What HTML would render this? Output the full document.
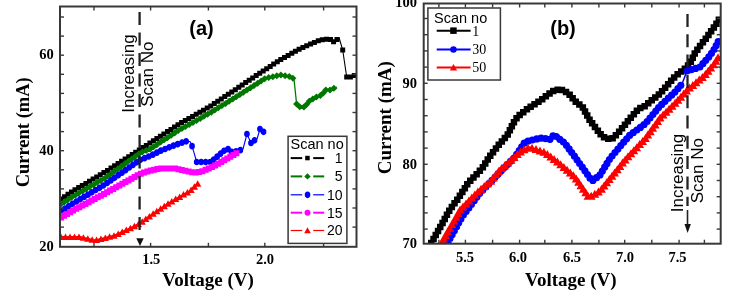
<!DOCTYPE html>
<html><head><meta charset="utf-8"><style>
html,body{margin:0;padding:0;background:#fff;}
svg{display:block;filter:blur(0.4px);}
text{fill:#000;}
</style></head><body>
<svg width="750" height="300" viewBox="0 0 750 300">
<rect width="750" height="300" fill="#fff"/>
<clipPath id="c0"><rect x="60" y="6.5" width="296.5" height="240.3"/></clipPath><g clip-path="url(#c0)">
<polyline points="61,199 73,191 105,172 150,143 180,123.5 210,106.5 240,86.5 260,73 280,60 300,48.7 313,43 320,40 324,39.5 330,39 333,42 335,41.5 339,37.5 342.7,50 346.7,77 348,78 353,76 356,75" fill="none" stroke="#000" stroke-width="1.1" stroke-linejoin="round"/>
<path d="M58.5 196.5h5.0v5.0h-5.0zM62.0 194.2h5.0v5.0h-5.0zM65.5 191.8h5.0v5.0h-5.0zM69.0 189.5h5.0v5.0h-5.0zM72.5 187.3h5.0v5.0h-5.0zM76.2 185.1h5.0v5.0h-5.0zM79.8 183.0h5.0v5.0h-5.0zM83.4 180.9h5.0v5.0h-5.0zM87.0 178.7h5.0v5.0h-5.0zM90.6 176.6h5.0v5.0h-5.0zM94.2 174.4h5.0v5.0h-5.0zM97.8 172.3h5.0v5.0h-5.0zM101.4 170.1h5.0v5.0h-5.0zM105.0 167.9h5.0v5.0h-5.0zM108.5 165.6h5.0v5.0h-5.0zM112.1 163.3h5.0v5.0h-5.0zM115.6 161.1h5.0v5.0h-5.0zM119.1 158.8h5.0v5.0h-5.0zM122.6 156.5h5.0v5.0h-5.0zM126.2 154.2h5.0v5.0h-5.0zM129.7 152.0h5.0v5.0h-5.0zM133.2 149.7h5.0v5.0h-5.0zM136.8 147.4h5.0v5.0h-5.0zM140.3 145.1h5.0v5.0h-5.0zM143.8 142.9h5.0v5.0h-5.0zM147.4 140.6h5.0v5.0h-5.0zM150.9 138.3h5.0v5.0h-5.0zM154.4 136.0h5.0v5.0h-5.0zM157.9 133.7h5.0v5.0h-5.0zM161.4 131.4h5.0v5.0h-5.0zM165.0 129.1h5.0v5.0h-5.0zM168.5 126.9h5.0v5.0h-5.0zM172.0 124.6h5.0v5.0h-5.0zM175.5 122.3h5.0v5.0h-5.0zM179.1 120.1h5.0v5.0h-5.0zM182.8 118.0h5.0v5.0h-5.0zM186.4 115.9h5.0v5.0h-5.0zM190.1 113.9h5.0v5.0h-5.0zM193.7 111.8h5.0v5.0h-5.0zM197.4 109.7h5.0v5.0h-5.0zM201.0 107.7h5.0v5.0h-5.0zM204.7 105.6h5.0v5.0h-5.0zM208.3 103.5h5.0v5.0h-5.0zM211.8 101.1h5.0v5.0h-5.0zM215.3 98.8h5.0v5.0h-5.0zM218.8 96.5h5.0v5.0h-5.0zM222.3 94.1h5.0v5.0h-5.0zM225.8 91.8h5.0v5.0h-5.0zM229.3 89.5h5.0v5.0h-5.0zM232.8 87.2h5.0v5.0h-5.0zM236.3 84.8h5.0v5.0h-5.0zM239.7 82.5h5.0v5.0h-5.0zM243.2 80.1h5.0v5.0h-5.0zM246.7 77.8h5.0v5.0h-5.0zM250.2 75.4h5.0v5.0h-5.0zM253.7 73.1h5.0v5.0h-5.0zM257.2 70.7h5.0v5.0h-5.0zM260.7 68.4h5.0v5.0h-5.0zM264.2 66.2h5.0v5.0h-5.0zM267.7 63.9h5.0v5.0h-5.0zM271.2 61.6h5.0v5.0h-5.0zM274.8 59.3h5.0v5.0h-5.0zM278.3 57.0h5.0v5.0h-5.0zM282.0 55.0h5.0v5.0h-5.0zM285.6 52.9h5.0v5.0h-5.0zM289.3 50.8h5.0v5.0h-5.0zM292.9 48.8h5.0v5.0h-5.0zM296.6 46.7h5.0v5.0h-5.0zM300.4 44.9h5.0v5.0h-5.0zM304.2 43.2h5.0v5.0h-5.0zM308.1 41.6h5.0v5.0h-5.0zM311.9 39.9h5.0v5.0h-5.0zM315.8 38.2h5.0v5.0h-5.0zM319.8 37.2h5.0v5.0h-5.0zM324.0 36.8h5.0v5.0h-5.0zM328.0 37.0h5.0v5.0h-5.0zM331.1 39.3h5.0v5.0h-5.0zM334.5 37.0h5.0v5.0h-5.0zM340.2 47.5h5.0v5.0h-5.0zM344.2 74.5h5.0v5.0h-5.0zM347.9 74.5h5.0v5.0h-5.0zM351.8 73.1h5.0v5.0h-5.0z" fill="#000"/>
<polyline points="61,204 73,196.5 105,178 140,153 150,149 180,129.5 210,113 240,94.5 265,78.5 280,75 290,76.5 294,79 296.6,104 300,107 305,107 308,102 316,97 322,95 325,90 330,90 337,87" fill="none" stroke="#007800" stroke-width="1.3" stroke-linejoin="round"/>
<path d="M61.0 200.5l3.5 3.5l-3.5 3.5l-3.5 -3.5zM64.6 198.3l3.5 3.5l-3.5 3.5l-3.5 -3.5zM68.1 196.0l3.5 3.5l-3.5 3.5l-3.5 -3.5zM71.7 193.8l3.5 3.5l-3.5 3.5l-3.5 -3.5zM75.3 191.7l3.5 3.5l-3.5 3.5l-3.5 -3.5zM78.9 189.6l3.5 3.5l-3.5 3.5l-3.5 -3.5zM82.6 187.5l3.5 3.5l-3.5 3.5l-3.5 -3.5zM86.2 185.4l3.5 3.5l-3.5 3.5l-3.5 -3.5zM89.8 183.3l3.5 3.5l-3.5 3.5l-3.5 -3.5zM93.5 181.2l3.5 3.5l-3.5 3.5l-3.5 -3.5zM97.1 179.1l3.5 3.5l-3.5 3.5l-3.5 -3.5zM100.7 177.0l3.5 3.5l-3.5 3.5l-3.5 -3.5zM104.4 174.9l3.5 3.5l-3.5 3.5l-3.5 -3.5zM107.8 172.5l3.5 3.5l-3.5 3.5l-3.5 -3.5zM111.3 170.0l3.5 3.5l-3.5 3.5l-3.5 -3.5zM114.7 167.6l3.5 3.5l-3.5 3.5l-3.5 -3.5zM118.1 165.2l3.5 3.5l-3.5 3.5l-3.5 -3.5zM121.5 162.7l3.5 3.5l-3.5 3.5l-3.5 -3.5zM124.9 160.3l3.5 3.5l-3.5 3.5l-3.5 -3.5zM128.3 157.8l3.5 3.5l-3.5 3.5l-3.5 -3.5zM131.8 155.4l3.5 3.5l-3.5 3.5l-3.5 -3.5zM135.2 152.9l3.5 3.5l-3.5 3.5l-3.5 -3.5zM138.6 150.5l3.5 3.5l-3.5 3.5l-3.5 -3.5zM142.3 148.6l3.5 3.5l-3.5 3.5l-3.5 -3.5zM146.2 147.0l3.5 3.5l-3.5 3.5l-3.5 -3.5zM150.1 145.4l3.5 3.5l-3.5 3.5l-3.5 -3.5zM153.6 143.2l3.5 3.5l-3.5 3.5l-3.5 -3.5zM157.1 140.9l3.5 3.5l-3.5 3.5l-3.5 -3.5zM160.7 138.6l3.5 3.5l-3.5 3.5l-3.5 -3.5zM164.2 136.3l3.5 3.5l-3.5 3.5l-3.5 -3.5zM167.7 134.0l3.5 3.5l-3.5 3.5l-3.5 -3.5zM171.2 131.7l3.5 3.5l-3.5 3.5l-3.5 -3.5zM174.7 129.4l3.5 3.5l-3.5 3.5l-3.5 -3.5zM178.3 127.1l3.5 3.5l-3.5 3.5l-3.5 -3.5zM181.9 125.0l3.5 3.5l-3.5 3.5l-3.5 -3.5zM185.5 123.0l3.5 3.5l-3.5 3.5l-3.5 -3.5zM189.2 120.9l3.5 3.5l-3.5 3.5l-3.5 -3.5zM192.9 118.9l3.5 3.5l-3.5 3.5l-3.5 -3.5zM196.6 116.9l3.5 3.5l-3.5 3.5l-3.5 -3.5zM200.3 114.9l3.5 3.5l-3.5 3.5l-3.5 -3.5zM203.9 112.8l3.5 3.5l-3.5 3.5l-3.5 -3.5zM207.6 110.8l3.5 3.5l-3.5 3.5l-3.5 -3.5zM211.3 108.7l3.5 3.5l-3.5 3.5l-3.5 -3.5zM214.8 106.5l3.5 3.5l-3.5 3.5l-3.5 -3.5zM218.4 104.3l3.5 3.5l-3.5 3.5l-3.5 -3.5zM222.0 102.1l3.5 3.5l-3.5 3.5l-3.5 -3.5zM225.6 99.9l3.5 3.5l-3.5 3.5l-3.5 -3.5zM229.1 97.7l3.5 3.5l-3.5 3.5l-3.5 -3.5zM232.7 95.5l3.5 3.5l-3.5 3.5l-3.5 -3.5zM236.3 93.3l3.5 3.5l-3.5 3.5l-3.5 -3.5zM239.9 91.1l3.5 3.5l-3.5 3.5l-3.5 -3.5zM243.4 88.8l3.5 3.5l-3.5 3.5l-3.5 -3.5zM246.9 86.6l3.5 3.5l-3.5 3.5l-3.5 -3.5zM250.5 84.3l3.5 3.5l-3.5 3.5l-3.5 -3.5zM254.0 82.0l3.5 3.5l-3.5 3.5l-3.5 -3.5zM257.6 79.8l3.5 3.5l-3.5 3.5l-3.5 -3.5zM261.1 77.5l3.5 3.5l-3.5 3.5l-3.5 -3.5zM264.6 75.2l3.5 3.5l-3.5 3.5l-3.5 -3.5zM268.7 74.1l3.5 3.5l-3.5 3.5l-3.5 -3.5zM272.8 73.2l3.5 3.5l-3.5 3.5l-3.5 -3.5zM276.8 72.2l3.5 3.5l-3.5 3.5l-3.5 -3.5zM280.9 71.6l3.5 3.5l-3.5 3.5l-3.5 -3.5zM285.1 72.3l3.5 3.5l-3.5 3.5l-3.5 -3.5zM289.3 72.9l3.5 3.5l-3.5 3.5l-3.5 -3.5zM292.9 74.8l3.5 3.5l-3.5 3.5l-3.5 -3.5zM296.6 100.5l3.5 3.5l-3.5 3.5l-3.5 -3.5zM299.7 103.3l3.5 3.5l-3.5 3.5l-3.5 -3.5zM303.9 103.5l3.5 3.5l-3.5 3.5l-3.5 -3.5zM306.6 100.9l3.5 3.5l-3.5 3.5l-3.5 -3.5zM309.2 97.7l3.5 3.5l-3.5 3.5l-3.5 -3.5zM312.8 95.5l3.5 3.5l-3.5 3.5l-3.5 -3.5zM316.4 93.4l3.5 3.5l-3.5 3.5l-3.5 -3.5zM320.4 92.0l3.5 3.5l-3.5 3.5l-3.5 -3.5zM323.3 89.4l3.5 3.5l-3.5 3.5l-3.5 -3.5zM325.8 86.5l3.5 3.5l-3.5 3.5l-3.5 -3.5zM330.0 86.5l3.5 3.5l-3.5 3.5l-3.5 -3.5zM333.9 84.8l3.5 3.5l-3.5 3.5l-3.5 -3.5z" fill="#007800"/>
<polyline points="61,211 73,203.5 105,184.5 140,160 150,156 160,151 175,145 187,141 190,141.5 192.1,146.1 196.7,162 211,162 219,155 225,150 228,149 232,152 238,151 243,149 247,134 251,143 255,140 257,139 260,129 265,133" fill="none" stroke="#0000ff" stroke-width="1.1" stroke-linejoin="round"/>
<path d="M58.2 211.0a2.8 2.8 0 1 0 5.5 0a2.8 2.8 0 1 0 -5.5 0zM62.1 208.6a2.8 2.8 0 1 0 5.5 0a2.8 2.8 0 1 0 -5.5 0zM65.9 206.2a2.8 2.8 0 1 0 5.5 0a2.8 2.8 0 1 0 -5.5 0zM69.7 203.8a2.8 2.8 0 1 0 5.5 0a2.8 2.8 0 1 0 -5.5 0zM73.6 201.5a2.8 2.8 0 1 0 5.5 0a2.8 2.8 0 1 0 -5.5 0zM77.4 199.2a2.8 2.8 0 1 0 5.5 0a2.8 2.8 0 1 0 -5.5 0zM81.3 196.9a2.8 2.8 0 1 0 5.5 0a2.8 2.8 0 1 0 -5.5 0zM85.2 194.6a2.8 2.8 0 1 0 5.5 0a2.8 2.8 0 1 0 -5.5 0zM89.0 192.3a2.8 2.8 0 1 0 5.5 0a2.8 2.8 0 1 0 -5.5 0zM92.9 190.0a2.8 2.8 0 1 0 5.5 0a2.8 2.8 0 1 0 -5.5 0zM96.8 187.8a2.8 2.8 0 1 0 5.5 0a2.8 2.8 0 1 0 -5.5 0zM100.6 185.5a2.8 2.8 0 1 0 5.5 0a2.8 2.8 0 1 0 -5.5 0zM104.4 183.0a2.8 2.8 0 1 0 5.5 0a2.8 2.8 0 1 0 -5.5 0zM108.1 180.4a2.8 2.8 0 1 0 5.5 0a2.8 2.8 0 1 0 -5.5 0zM111.8 177.8a2.8 2.8 0 1 0 5.5 0a2.8 2.8 0 1 0 -5.5 0zM115.5 175.2a2.8 2.8 0 1 0 5.5 0a2.8 2.8 0 1 0 -5.5 0zM119.2 172.7a2.8 2.8 0 1 0 5.5 0a2.8 2.8 0 1 0 -5.5 0zM122.8 170.1a2.8 2.8 0 1 0 5.5 0a2.8 2.8 0 1 0 -5.5 0zM126.5 167.5a2.8 2.8 0 1 0 5.5 0a2.8 2.8 0 1 0 -5.5 0zM130.2 164.9a2.8 2.8 0 1 0 5.5 0a2.8 2.8 0 1 0 -5.5 0zM133.9 162.3a2.8 2.8 0 1 0 5.5 0a2.8 2.8 0 1 0 -5.5 0zM137.6 159.8a2.8 2.8 0 1 0 5.5 0a2.8 2.8 0 1 0 -5.5 0zM141.8 158.2a2.8 2.8 0 1 0 5.5 0a2.8 2.8 0 1 0 -5.5 0zM146.0 156.5a2.8 2.8 0 1 0 5.5 0a2.8 2.8 0 1 0 -5.5 0zM150.1 154.6a2.8 2.8 0 1 0 5.5 0a2.8 2.8 0 1 0 -5.5 0zM154.1 152.6a2.8 2.8 0 1 0 5.5 0a2.8 2.8 0 1 0 -5.5 0zM158.1 150.6a2.8 2.8 0 1 0 5.5 0a2.8 2.8 0 1 0 -5.5 0zM162.3 149.0a2.8 2.8 0 1 0 5.5 0a2.8 2.8 0 1 0 -5.5 0zM166.5 147.3a2.8 2.8 0 1 0 5.5 0a2.8 2.8 0 1 0 -5.5 0zM170.7 145.6a2.8 2.8 0 1 0 5.5 0a2.8 2.8 0 1 0 -5.5 0zM174.9 144.1a2.8 2.8 0 1 0 5.5 0a2.8 2.8 0 1 0 -5.5 0zM179.2 142.7a2.8 2.8 0 1 0 5.5 0a2.8 2.8 0 1 0 -5.5 0zM183.4 141.3a2.8 2.8 0 1 0 5.5 0a2.8 2.8 0 1 0 -5.5 0zM189.3 146.1a2.8 2.8 0 1 0 5.5 0a2.8 2.8 0 1 0 -5.5 0zM193.9 162.0a2.8 2.8 0 1 0 5.5 0a2.8 2.8 0 1 0 -5.5 0zM198.4 162.0a2.8 2.8 0 1 0 5.5 0a2.8 2.8 0 1 0 -5.5 0zM202.9 162.0a2.8 2.8 0 1 0 5.5 0a2.8 2.8 0 1 0 -5.5 0zM207.4 162.0a2.8 2.8 0 1 0 5.5 0a2.8 2.8 0 1 0 -5.5 0zM211.0 159.6a2.8 2.8 0 1 0 5.5 0a2.8 2.8 0 1 0 -5.5 0zM214.4 156.6a2.8 2.8 0 1 0 5.5 0a2.8 2.8 0 1 0 -5.5 0zM217.8 153.7a2.8 2.8 0 1 0 5.5 0a2.8 2.8 0 1 0 -5.5 0zM221.3 150.8a2.8 2.8 0 1 0 5.5 0a2.8 2.8 0 1 0 -5.5 0zM225.3 149.1a2.8 2.8 0 1 0 5.5 0a2.8 2.8 0 1 0 -5.5 0zM228.9 151.8a2.8 2.8 0 1 0 5.5 0a2.8 2.8 0 1 0 -5.5 0zM233.3 151.3a2.8 2.8 0 1 0 5.5 0a2.8 2.8 0 1 0 -5.5 0zM237.6 150.1a2.8 2.8 0 1 0 5.5 0a2.8 2.8 0 1 0 -5.5 0zM244.2 134.0a2.8 2.8 0 1 0 5.5 0a2.8 2.8 0 1 0 -5.5 0zM248.2 143.0a2.8 2.8 0 1 0 5.5 0a2.8 2.8 0 1 0 -5.5 0zM251.8 140.3a2.8 2.8 0 1 0 5.5 0a2.8 2.8 0 1 0 -5.5 0zM257.2 129.0a2.8 2.8 0 1 0 5.5 0a2.8 2.8 0 1 0 -5.5 0zM260.8 131.8a2.8 2.8 0 1 0 5.5 0a2.8 2.8 0 1 0 -5.5 0z" fill="#0000ff"/>
<polyline points="61,217.5 73,210.5 105,193.5 140,174 150,170.5 160,168.5 175,168.5 185,170.8 195,172.7 202,171.5 215,165.5 237,153" fill="none" stroke="#ff00ff" stroke-width="1.6" stroke-linejoin="round"/>
<path d="M58.0 214.5h6.0v6.0h-6.0zM61.0 212.7h6.0v6.0h-6.0zM64.0 211.0h6.0v6.0h-6.0zM67.1 209.2h6.0v6.0h-6.0zM70.1 207.4h6.0v6.0h-6.0zM73.2 205.8h6.0v6.0h-6.0zM76.3 204.2h6.0v6.0h-6.0zM79.4 202.5h6.0v6.0h-6.0zM82.5 200.9h6.0v6.0h-6.0zM85.5 199.2h6.0v6.0h-6.0zM88.6 197.6h6.0v6.0h-6.0zM91.7 196.0h6.0v6.0h-6.0zM94.8 194.3h6.0v6.0h-6.0zM97.9 192.7h6.0v6.0h-6.0zM101.0 191.0h6.0v6.0h-6.0zM104.1 189.3h6.0v6.0h-6.0zM107.1 187.6h6.0v6.0h-6.0zM110.2 185.9h6.0v6.0h-6.0zM113.2 184.2h6.0v6.0h-6.0zM116.3 182.5h6.0v6.0h-6.0zM119.4 180.8h6.0v6.0h-6.0zM122.4 179.1h6.0v6.0h-6.0zM125.5 177.4h6.0v6.0h-6.0zM128.5 175.7h6.0v6.0h-6.0zM131.6 174.0h6.0v6.0h-6.0zM134.6 172.3h6.0v6.0h-6.0zM137.8 170.7h6.0v6.0h-6.0zM141.1 169.6h6.0v6.0h-6.0zM144.4 168.4h6.0v6.0h-6.0zM147.7 167.4h6.0v6.0h-6.0zM151.1 166.7h6.0v6.0h-6.0zM154.6 166.0h6.0v6.0h-6.0zM158.0 165.5h6.0v6.0h-6.0zM161.5 165.5h6.0v6.0h-6.0zM165.0 165.5h6.0v6.0h-6.0zM168.5 165.5h6.0v6.0h-6.0zM172.0 165.5h6.0v6.0h-6.0zM175.4 166.3h6.0v6.0h-6.0zM178.8 167.1h6.0v6.0h-6.0zM182.2 167.8h6.0v6.0h-6.0zM185.7 168.5h6.0v6.0h-6.0zM189.1 169.2h6.0v6.0h-6.0zM192.6 169.6h6.0v6.0h-6.0zM196.0 169.0h6.0v6.0h-6.0zM199.4 168.3h6.0v6.0h-6.0zM202.6 166.8h6.0v6.0h-6.0zM205.8 165.4h6.0v6.0h-6.0zM209.0 163.9h6.0v6.0h-6.0zM212.1 162.4h6.0v6.0h-6.0zM215.2 160.7h6.0v6.0h-6.0zM218.2 159.0h6.0v6.0h-6.0zM221.3 157.2h6.0v6.0h-6.0zM224.3 155.5h6.0v6.0h-6.0zM227.3 153.8h6.0v6.0h-6.0zM230.4 152.0h6.0v6.0h-6.0zM233.4 150.3h6.0v6.0h-6.0z" fill="#ff00ff"/>
<polyline points="61,237 80,237 95,240.5 115,235.5 130,228.5 140,223.5 150,216 170,202.5 190,191 198,183.5" fill="none" stroke="#ff0000" stroke-width="2" stroke-linejoin="round"/>
<path d="M61.0 233.4l3.6 6.5h-7.2zM65.5 233.4l3.6 6.5h-7.2zM70.0 233.4l3.6 6.5h-7.2zM74.5 233.4l3.6 6.5h-7.2zM79.0 233.4l3.6 6.5h-7.2zM83.4 234.2l3.6 6.5h-7.2zM87.8 235.2l3.6 6.5h-7.2zM92.2 236.3l3.6 6.5h-7.2zM96.5 236.5l3.6 6.5h-7.2zM100.9 235.4l3.6 6.5h-7.2zM105.3 234.4l3.6 6.5h-7.2zM109.6 233.3l3.6 6.5h-7.2zM114.0 232.2l3.6 6.5h-7.2zM118.2 230.5l3.6 6.5h-7.2zM122.2 228.5l3.6 6.5h-7.2zM126.3 226.6l3.6 6.5h-7.2zM130.4 224.7l3.6 6.5h-7.2zM134.4 222.7l3.6 6.5h-7.2zM138.4 220.7l3.6 6.5h-7.2zM142.2 218.3l3.6 6.5h-7.2zM145.8 215.6l3.6 6.5h-7.2zM149.4 212.9l3.6 6.5h-7.2zM153.1 210.3l3.6 6.5h-7.2zM156.8 207.8l3.6 6.5h-7.2zM160.6 205.3l3.6 6.5h-7.2zM164.3 202.8l3.6 6.5h-7.2zM168.0 200.3l3.6 6.5h-7.2zM171.8 197.9l3.6 6.5h-7.2zM175.7 195.6l3.6 6.5h-7.2zM179.6 193.4l3.6 6.5h-7.2zM183.5 191.1l3.6 6.5h-7.2zM187.4 188.9l3.6 6.5h-7.2zM191.1 186.4l3.6 6.5h-7.2zM194.4 183.3l3.6 6.5h-7.2zM197.7 180.2l3.6 6.5h-7.2z" fill="#ff0000"/>
</g>
<rect x="60" y="6.5" width="296.5" height="240.3" fill="none" stroke="#383838" stroke-width="2"/>
<line x1="94" y1="246.8" x2="94" y2="242.8" stroke="#383838" stroke-width="1.4"/>
<line x1="94" y1="6.5" x2="94" y2="10.5" stroke="#383838" stroke-width="1.4"/>
<line x1="150.6" y1="246.8" x2="150.6" y2="242.8" stroke="#383838" stroke-width="1.4"/>
<line x1="150.6" y1="6.5" x2="150.6" y2="10.5" stroke="#383838" stroke-width="1.4"/>
<line x1="208.4" y1="246.8" x2="208.4" y2="242.8" stroke="#383838" stroke-width="1.4"/>
<line x1="208.4" y1="6.5" x2="208.4" y2="10.5" stroke="#383838" stroke-width="1.4"/>
<line x1="264.8" y1="246.8" x2="264.8" y2="242.8" stroke="#383838" stroke-width="1.4"/>
<line x1="264.8" y1="6.5" x2="264.8" y2="10.5" stroke="#383838" stroke-width="1.4"/>
<line x1="323.6" y1="246.8" x2="323.6" y2="242.8" stroke="#383838" stroke-width="1.4"/>
<line x1="323.6" y1="6.5" x2="323.6" y2="10.5" stroke="#383838" stroke-width="1.4"/>
<line x1="60" y1="17.0" x2="64" y2="17.0" stroke="#383838" stroke-width="1.4"/>
<line x1="356.5" y1="17.0" x2="352.5" y2="17.0" stroke="#383838" stroke-width="1.4"/>
<line x1="60" y1="36.1" x2="64" y2="36.1" stroke="#383838" stroke-width="1.4"/>
<line x1="356.5" y1="36.1" x2="352.5" y2="36.1" stroke="#383838" stroke-width="1.4"/>
<line x1="60" y1="55.2" x2="64" y2="55.2" stroke="#383838" stroke-width="1.4"/>
<line x1="356.5" y1="55.2" x2="352.5" y2="55.2" stroke="#383838" stroke-width="1.4"/>
<line x1="60" y1="74.3" x2="64" y2="74.3" stroke="#383838" stroke-width="1.4"/>
<line x1="356.5" y1="74.3" x2="352.5" y2="74.3" stroke="#383838" stroke-width="1.4"/>
<line x1="60" y1="93.4" x2="64" y2="93.4" stroke="#383838" stroke-width="1.4"/>
<line x1="356.5" y1="93.4" x2="352.5" y2="93.4" stroke="#383838" stroke-width="1.4"/>
<line x1="60" y1="112.5" x2="64" y2="112.5" stroke="#383838" stroke-width="1.4"/>
<line x1="356.5" y1="112.5" x2="352.5" y2="112.5" stroke="#383838" stroke-width="1.4"/>
<line x1="60" y1="131.6" x2="64" y2="131.6" stroke="#383838" stroke-width="1.4"/>
<line x1="356.5" y1="131.6" x2="352.5" y2="131.6" stroke="#383838" stroke-width="1.4"/>
<line x1="60" y1="150.7" x2="64" y2="150.7" stroke="#383838" stroke-width="1.4"/>
<line x1="356.5" y1="150.7" x2="352.5" y2="150.7" stroke="#383838" stroke-width="1.4"/>
<line x1="60" y1="169.8" x2="64" y2="169.8" stroke="#383838" stroke-width="1.4"/>
<line x1="356.5" y1="169.8" x2="352.5" y2="169.8" stroke="#383838" stroke-width="1.4"/>
<line x1="60" y1="188.9" x2="64" y2="188.9" stroke="#383838" stroke-width="1.4"/>
<line x1="356.5" y1="188.9" x2="352.5" y2="188.9" stroke="#383838" stroke-width="1.4"/>
<line x1="60" y1="208.0" x2="64" y2="208.0" stroke="#383838" stroke-width="1.4"/>
<line x1="356.5" y1="208.0" x2="352.5" y2="208.0" stroke="#383838" stroke-width="1.4"/>
<line x1="60" y1="227.1" x2="64" y2="227.1" stroke="#383838" stroke-width="1.4"/>
<line x1="356.5" y1="227.1" x2="352.5" y2="227.1" stroke="#383838" stroke-width="1.4"/>
<text x="53.7" y="250.5" style="font-family:'Liberation Serif',serif;font-weight:bold;font-size:14.5px" text-anchor="end" >20</text>
<text x="53.7" y="154.7" style="font-family:'Liberation Serif',serif;font-weight:bold;font-size:14.5px" text-anchor="end" >40</text>
<text x="53.7" y="59.2" style="font-family:'Liberation Serif',serif;font-weight:bold;font-size:14.5px" text-anchor="end" >60</text>
<text x="151.2" y="263.5" style="font-family:'Liberation Serif',serif;font-weight:bold;font-size:14.5px" text-anchor="middle" >1.5</text>
<text x="265" y="263.5" style="font-family:'Liberation Serif',serif;font-weight:bold;font-size:14.5px" text-anchor="middle" >2.0</text>
<text x="208" y="285.6" style="font-family:'Liberation Serif',serif;font-weight:bold;font-size:19px" text-anchor="middle" >Voltage (V)</text>
<text transform="translate(29.3,132.3) rotate(-90)" text-anchor="middle" style="font-family:'Liberation Serif',serif;font-weight:bold;font-size:18.5px">Current (mA)</text>
<text x="201.5" y="35" style="font-family:'Liberation Sans',sans-serif;font-weight:bold;font-size:20px" text-anchor="middle" >(a)</text>
<line x1="139.6" y1="12" x2="139.6" y2="230" stroke="#222" stroke-width="2.3" stroke-dasharray="13 7.5"/>
<path d="M136.3 238.3L143.7 238.3L140 246z" fill="#111"/>
<text transform="translate(134,73.5) rotate(-90)" text-anchor="middle" style="font-family:'Liberation Sans',sans-serif;font-size:17px">Increasing</text>
<text transform="translate(152.7,74.2) rotate(-90)" text-anchor="middle" style="font-family:'Liberation Sans',sans-serif;font-size:17px">Scan No</text>
<rect x="288.1" y="136.3" width="58.8" height="107.1" fill="#fff" stroke="#383838" stroke-width="1.5"/>
<text x="290.5" y="149.1" style="font-family:'Liberation Sans',sans-serif;font-size:14.5px" text-anchor="start" >Scan no</text>
<line x1="290.7" y1="158.1" x2="302.2" y2="158.1" stroke="#000" stroke-width="2"/>
<line x1="313.2" y1="158.1" x2="324.2" y2="158.1" stroke="#000" stroke-width="2"/>
<path d="M305.2 155.8h4.5v4.5h-4.5z" fill="#000"/>
<text x="342.6" y="162.9" style="font-family:'Liberation Sans',sans-serif;font-size:14px" text-anchor="end" >1</text>
<line x1="290.7" y1="176.4" x2="302.2" y2="176.4" stroke="#007800" stroke-width="2"/>
<line x1="313.2" y1="176.4" x2="324.2" y2="176.4" stroke="#007800" stroke-width="2"/>
<path d="M307.5 173.2l3.2 3.2l-3.2 3.2l-3.2 -3.2z" fill="#007800"/>
<text x="342.6" y="181.20000000000002" style="font-family:'Liberation Sans',sans-serif;font-size:14px" text-anchor="end" >5</text>
<line x1="290.7" y1="194.8" x2="302.2" y2="194.8" stroke="#0000ff" stroke-width="1.2"/>
<line x1="313.2" y1="194.8" x2="324.2" y2="194.8" stroke="#0000ff" stroke-width="1.2"/>
<path d="M304.8 194.8a2.8 2.8 0 1 0 5.5 0a2.8 2.8 0 1 0 -5.5 0z" fill="#0000ff"/>
<text x="342.6" y="199.60000000000002" style="font-family:'Liberation Sans',sans-serif;font-size:14px" text-anchor="end" >10</text>
<line x1="290.7" y1="212.7" x2="302.2" y2="212.7" stroke="#ff00ff" stroke-width="2"/>
<line x1="313.2" y1="212.7" x2="324.2" y2="212.7" stroke="#ff00ff" stroke-width="2"/>
<path d="M304.5 212.7a3.0 3.0 0 1 0 6.0 0a3.0 3.0 0 1 0 -6.0 0z" fill="#ff00ff"/>
<text x="342.6" y="217.5" style="font-family:'Liberation Sans',sans-serif;font-size:14px" text-anchor="end" >15</text>
<line x1="290.7" y1="230.5" x2="302.2" y2="230.5" stroke="#ff0000" stroke-width="1.2"/>
<line x1="313.2" y1="230.5" x2="324.2" y2="230.5" stroke="#ff0000" stroke-width="1.2"/>
<path d="M307.5 227.2l3.3 6.0h-6.6z" fill="#ff0000"/>
<text x="342.6" y="235.3" style="font-family:'Liberation Sans',sans-serif;font-size:14px" text-anchor="end" >20</text>
<clipPath id="c1"><rect x="423.7" y="3.5" width="297.00000000000006" height="240.2"/></clipPath><g clip-path="url(#c1)">
<polyline points="429,247 433,240 449.7,210 458.5,198 468.1,183 482.3,168.3 489.6,156.5 498.7,145 507.5,135 515,120 520,114.7 530,107 541.3,100 545,97 553,91 560,89 568,93 575,101 582.7,107.3 585,111.5 590,120.5 595,127 602,136 606,138.5 612,139 620,131 630,118.5 638.7,108.7 645,106 660,93.5 665,88 675,76.5 685,68.5 690,63.5 695,53 700,46 706,38.5 715,26 720,18" fill="none" stroke="#000" stroke-width="1.5" stroke-linejoin="round"/>
<path d="M425.8 243.8h6.5v6.5h-6.5zM428.0 239.8h6.5v6.5h-6.5zM430.3 235.8h6.5v6.5h-6.5zM432.5 231.7h6.5v6.5h-6.5zM434.8 227.7h6.5v6.5h-6.5zM437.0 223.7h6.5v6.5h-6.5zM439.3 219.7h6.5v6.5h-6.5zM441.5 215.7h6.5v6.5h-6.5zM443.7 211.6h6.5v6.5h-6.5zM446.0 207.6h6.5v6.5h-6.5zM448.6 203.8h6.5v6.5h-6.5zM451.3 200.1h6.5v6.5h-6.5zM454.0 196.4h6.5v6.5h-6.5zM456.6 192.6h6.5v6.5h-6.5zM459.1 188.8h6.5v6.5h-6.5zM461.6 184.9h6.5v6.5h-6.5zM464.0 181.0h6.5v6.5h-6.5zM467.0 177.5h6.5v6.5h-6.5zM470.2 174.2h6.5v6.5h-6.5zM473.4 170.9h6.5v6.5h-6.5zM476.6 167.6h6.5v6.5h-6.5zM479.6 164.1h6.5v6.5h-6.5zM482.0 160.2h6.5v6.5h-6.5zM484.5 156.3h6.5v6.5h-6.5zM487.0 152.5h6.5v6.5h-6.5zM489.8 148.9h6.5v6.5h-6.5zM492.7 145.3h6.5v6.5h-6.5zM495.5 141.6h6.5v6.5h-6.5zM498.6 138.2h6.5v6.5h-6.5zM501.6 134.7h6.5v6.5h-6.5zM504.5 131.2h6.5v6.5h-6.5zM506.6 127.1h6.5v6.5h-6.5zM508.6 123.0h6.5v6.5h-6.5zM510.7 118.9h6.5v6.5h-6.5zM513.3 115.1h6.5v6.5h-6.5zM516.4 111.8h6.5v6.5h-6.5zM520.0 108.9h6.5v6.5h-6.5zM523.7 106.1h6.5v6.5h-6.5zM527.4 103.4h6.5v6.5h-6.5zM531.3 100.9h6.5v6.5h-6.5zM535.2 98.5h6.5v6.5h-6.5zM539.0 96.0h6.5v6.5h-6.5zM542.6 93.1h6.5v6.5h-6.5zM546.3 90.3h6.5v6.5h-6.5zM550.0 87.7h6.5v6.5h-6.5zM554.4 86.4h6.5v6.5h-6.5zM558.7 86.7h6.5v6.5h-6.5zM562.8 88.8h6.5v6.5h-6.5zM566.4 91.6h6.5v6.5h-6.5zM569.4 95.1h6.5v6.5h-6.5zM572.5 98.4h6.5v6.5h-6.5zM576.1 101.3h6.5v6.5h-6.5zM579.6 104.3h6.5v6.5h-6.5zM581.8 108.3h6.5v6.5h-6.5zM584.0 112.3h6.5v6.5h-6.5zM586.3 116.4h6.5v6.5h-6.5zM588.9 120.1h6.5v6.5h-6.5zM591.7 123.7h6.5v6.5h-6.5zM594.6 127.4h6.5v6.5h-6.5zM597.4 131.0h6.5v6.5h-6.5zM600.8 134.0h6.5v6.5h-6.5zM605.0 135.4h6.5v6.5h-6.5zM609.4 135.1h6.5v6.5h-6.5zM612.6 131.9h6.5v6.5h-6.5zM615.9 128.6h6.5v6.5h-6.5zM618.8 125.1h6.5v6.5h-6.5zM621.7 121.6h6.5v6.5h-6.5zM624.6 118.0h6.5v6.5h-6.5zM627.5 114.4h6.5v6.5h-6.5zM630.6 111.0h6.5v6.5h-6.5zM633.6 107.5h6.5v6.5h-6.5zM637.1 104.7h6.5v6.5h-6.5zM641.4 102.9h6.5v6.5h-6.5zM645.0 100.1h6.5v6.5h-6.5zM648.5 97.1h6.5v6.5h-6.5zM652.0 94.2h6.5v6.5h-6.5zM655.6 91.2h6.5v6.5h-6.5zM658.8 88.0h6.5v6.5h-6.5zM661.9 84.6h6.5v6.5h-6.5zM664.9 81.1h6.5v6.5h-6.5zM667.9 77.6h6.5v6.5h-6.5zM670.9 74.2h6.5v6.5h-6.5zM674.4 71.1h6.5v6.5h-6.5zM678.0 68.3h6.5v6.5h-6.5zM681.6 65.4h6.5v6.5h-6.5zM684.8 62.2h6.5v6.5h-6.5zM687.6 58.5h6.5v6.5h-6.5zM689.5 54.4h6.5v6.5h-6.5zM691.5 50.2h6.5v6.5h-6.5zM694.1 46.4h6.5v6.5h-6.5zM696.8 42.7h6.5v6.5h-6.5zM699.7 39.1h6.5v6.5h-6.5zM702.5 35.5h6.5v6.5h-6.5zM705.2 31.8h6.5v6.5h-6.5zM707.9 28.1h6.5v6.5h-6.5zM710.6 24.3h6.5v6.5h-6.5zM713.2 20.5h6.5v6.5h-6.5zM715.6 16.6h6.5v6.5h-6.5z" fill="#000"/>
<polyline points="448,247 448,242 462,217 475.5,199 480,193 500,172 515,157 525,142 540,138 550,139.3 554,134.7 565,143.3 575,157 585,171 592,181 600,175 610,158.5 620,146.5 630,135 645,124 660,106 675,92 682,84 687,71 700,67 710,55.5 715,48 719,40" fill="none" stroke="#0000ff" stroke-width="1.5" stroke-linejoin="round"/>
<path d="M444.4 247.0a3.6 3.6 0 1 0 7.2 0a3.6 3.6 0 1 0 -7.2 0zM444.4 242.5a3.6 3.6 0 1 0 7.2 0a3.6 3.6 0 1 0 -7.2 0zM446.4 238.5a3.6 3.6 0 1 0 7.2 0a3.6 3.6 0 1 0 -7.2 0zM448.6 234.6a3.6 3.6 0 1 0 7.2 0a3.6 3.6 0 1 0 -7.2 0zM450.8 230.7a3.6 3.6 0 1 0 7.2 0a3.6 3.6 0 1 0 -7.2 0zM453.0 226.7a3.6 3.6 0 1 0 7.2 0a3.6 3.6 0 1 0 -7.2 0zM455.1 222.8a3.6 3.6 0 1 0 7.2 0a3.6 3.6 0 1 0 -7.2 0zM457.3 218.9a3.6 3.6 0 1 0 7.2 0a3.6 3.6 0 1 0 -7.2 0zM459.8 215.1a3.6 3.6 0 1 0 7.2 0a3.6 3.6 0 1 0 -7.2 0zM462.5 211.5a3.6 3.6 0 1 0 7.2 0a3.6 3.6 0 1 0 -7.2 0zM465.2 207.9a3.6 3.6 0 1 0 7.2 0a3.6 3.6 0 1 0 -7.2 0zM467.9 204.3a3.6 3.6 0 1 0 7.2 0a3.6 3.6 0 1 0 -7.2 0zM470.6 200.7a3.6 3.6 0 1 0 7.2 0a3.6 3.6 0 1 0 -7.2 0zM473.3 197.1a3.6 3.6 0 1 0 7.2 0a3.6 3.6 0 1 0 -7.2 0zM476.0 193.5a3.6 3.6 0 1 0 7.2 0a3.6 3.6 0 1 0 -7.2 0zM479.1 190.2a3.6 3.6 0 1 0 7.2 0a3.6 3.6 0 1 0 -7.2 0zM482.2 187.0a3.6 3.6 0 1 0 7.2 0a3.6 3.6 0 1 0 -7.2 0zM485.3 183.7a3.6 3.6 0 1 0 7.2 0a3.6 3.6 0 1 0 -7.2 0zM488.4 180.4a3.6 3.6 0 1 0 7.2 0a3.6 3.6 0 1 0 -7.2 0zM491.5 177.2a3.6 3.6 0 1 0 7.2 0a3.6 3.6 0 1 0 -7.2 0zM494.6 173.9a3.6 3.6 0 1 0 7.2 0a3.6 3.6 0 1 0 -7.2 0zM497.7 170.7a3.6 3.6 0 1 0 7.2 0a3.6 3.6 0 1 0 -7.2 0zM500.9 167.5a3.6 3.6 0 1 0 7.2 0a3.6 3.6 0 1 0 -7.2 0zM504.1 164.3a3.6 3.6 0 1 0 7.2 0a3.6 3.6 0 1 0 -7.2 0zM507.3 161.1a3.6 3.6 0 1 0 7.2 0a3.6 3.6 0 1 0 -7.2 0zM510.4 158.0a3.6 3.6 0 1 0 7.2 0a3.6 3.6 0 1 0 -7.2 0zM513.1 154.4a3.6 3.6 0 1 0 7.2 0a3.6 3.6 0 1 0 -7.2 0zM515.6 150.6a3.6 3.6 0 1 0 7.2 0a3.6 3.6 0 1 0 -7.2 0zM518.1 146.9a3.6 3.6 0 1 0 7.2 0a3.6 3.6 0 1 0 -7.2 0zM520.6 143.2a3.6 3.6 0 1 0 7.2 0a3.6 3.6 0 1 0 -7.2 0zM524.4 141.2a3.6 3.6 0 1 0 7.2 0a3.6 3.6 0 1 0 -7.2 0zM528.7 140.0a3.6 3.6 0 1 0 7.2 0a3.6 3.6 0 1 0 -7.2 0zM533.1 138.9a3.6 3.6 0 1 0 7.2 0a3.6 3.6 0 1 0 -7.2 0zM537.5 138.1a3.6 3.6 0 1 0 7.2 0a3.6 3.6 0 1 0 -7.2 0zM541.9 138.7a3.6 3.6 0 1 0 7.2 0a3.6 3.6 0 1 0 -7.2 0zM546.4 139.3a3.6 3.6 0 1 0 7.2 0a3.6 3.6 0 1 0 -7.2 0zM549.4 135.9a3.6 3.6 0 1 0 7.2 0a3.6 3.6 0 1 0 -7.2 0zM552.7 136.5a3.6 3.6 0 1 0 7.2 0a3.6 3.6 0 1 0 -7.2 0zM556.2 139.3a3.6 3.6 0 1 0 7.2 0a3.6 3.6 0 1 0 -7.2 0zM559.8 142.0a3.6 3.6 0 1 0 7.2 0a3.6 3.6 0 1 0 -7.2 0zM562.8 145.3a3.6 3.6 0 1 0 7.2 0a3.6 3.6 0 1 0 -7.2 0zM565.5 148.9a3.6 3.6 0 1 0 7.2 0a3.6 3.6 0 1 0 -7.2 0zM568.1 152.5a3.6 3.6 0 1 0 7.2 0a3.6 3.6 0 1 0 -7.2 0zM570.8 156.2a3.6 3.6 0 1 0 7.2 0a3.6 3.6 0 1 0 -7.2 0zM573.4 159.8a3.6 3.6 0 1 0 7.2 0a3.6 3.6 0 1 0 -7.2 0zM576.0 163.5a3.6 3.6 0 1 0 7.2 0a3.6 3.6 0 1 0 -7.2 0zM578.7 167.2a3.6 3.6 0 1 0 7.2 0a3.6 3.6 0 1 0 -7.2 0zM581.3 170.8a3.6 3.6 0 1 0 7.2 0a3.6 3.6 0 1 0 -7.2 0zM583.9 174.5a3.6 3.6 0 1 0 7.2 0a3.6 3.6 0 1 0 -7.2 0zM586.4 178.2a3.6 3.6 0 1 0 7.2 0a3.6 3.6 0 1 0 -7.2 0zM589.3 180.4a3.6 3.6 0 1 0 7.2 0a3.6 3.6 0 1 0 -7.2 0zM592.9 177.7a3.6 3.6 0 1 0 7.2 0a3.6 3.6 0 1 0 -7.2 0zM596.4 174.9a3.6 3.6 0 1 0 7.2 0a3.6 3.6 0 1 0 -7.2 0zM598.8 171.1a3.6 3.6 0 1 0 7.2 0a3.6 3.6 0 1 0 -7.2 0zM601.1 167.2a3.6 3.6 0 1 0 7.2 0a3.6 3.6 0 1 0 -7.2 0zM603.4 163.4a3.6 3.6 0 1 0 7.2 0a3.6 3.6 0 1 0 -7.2 0zM605.8 159.5a3.6 3.6 0 1 0 7.2 0a3.6 3.6 0 1 0 -7.2 0zM608.5 156.0a3.6 3.6 0 1 0 7.2 0a3.6 3.6 0 1 0 -7.2 0zM611.4 152.5a3.6 3.6 0 1 0 7.2 0a3.6 3.6 0 1 0 -7.2 0zM614.3 149.1a3.6 3.6 0 1 0 7.2 0a3.6 3.6 0 1 0 -7.2 0zM617.2 145.6a3.6 3.6 0 1 0 7.2 0a3.6 3.6 0 1 0 -7.2 0zM620.1 142.2a3.6 3.6 0 1 0 7.2 0a3.6 3.6 0 1 0 -7.2 0zM623.1 138.8a3.6 3.6 0 1 0 7.2 0a3.6 3.6 0 1 0 -7.2 0zM626.0 135.4a3.6 3.6 0 1 0 7.2 0a3.6 3.6 0 1 0 -7.2 0zM629.6 132.7a3.6 3.6 0 1 0 7.2 0a3.6 3.6 0 1 0 -7.2 0zM633.2 130.0a3.6 3.6 0 1 0 7.2 0a3.6 3.6 0 1 0 -7.2 0zM636.8 127.4a3.6 3.6 0 1 0 7.2 0a3.6 3.6 0 1 0 -7.2 0zM640.4 124.7a3.6 3.6 0 1 0 7.2 0a3.6 3.6 0 1 0 -7.2 0zM643.5 121.5a3.6 3.6 0 1 0 7.2 0a3.6 3.6 0 1 0 -7.2 0zM646.4 118.0a3.6 3.6 0 1 0 7.2 0a3.6 3.6 0 1 0 -7.2 0zM649.3 114.5a3.6 3.6 0 1 0 7.2 0a3.6 3.6 0 1 0 -7.2 0zM652.2 111.1a3.6 3.6 0 1 0 7.2 0a3.6 3.6 0 1 0 -7.2 0zM655.0 107.6a3.6 3.6 0 1 0 7.2 0a3.6 3.6 0 1 0 -7.2 0zM658.1 104.4a3.6 3.6 0 1 0 7.2 0a3.6 3.6 0 1 0 -7.2 0zM661.4 101.3a3.6 3.6 0 1 0 7.2 0a3.6 3.6 0 1 0 -7.2 0zM664.7 98.2a3.6 3.6 0 1 0 7.2 0a3.6 3.6 0 1 0 -7.2 0zM668.0 95.2a3.6 3.6 0 1 0 7.2 0a3.6 3.6 0 1 0 -7.2 0zM671.3 92.1a3.6 3.6 0 1 0 7.2 0a3.6 3.6 0 1 0 -7.2 0zM674.3 88.7a3.6 3.6 0 1 0 7.2 0a3.6 3.6 0 1 0 -7.2 0zM677.2 85.3a3.6 3.6 0 1 0 7.2 0a3.6 3.6 0 1 0 -7.2 0zM683.4 71.0a3.6 3.6 0 1 0 7.2 0a3.6 3.6 0 1 0 -7.2 0zM687.7 69.7a3.6 3.6 0 1 0 7.2 0a3.6 3.6 0 1 0 -7.2 0zM692.0 68.4a3.6 3.6 0 1 0 7.2 0a3.6 3.6 0 1 0 -7.2 0zM696.3 67.0a3.6 3.6 0 1 0 7.2 0a3.6 3.6 0 1 0 -7.2 0zM699.3 63.7a3.6 3.6 0 1 0 7.2 0a3.6 3.6 0 1 0 -7.2 0zM702.2 60.3a3.6 3.6 0 1 0 7.2 0a3.6 3.6 0 1 0 -7.2 0zM705.2 56.9a3.6 3.6 0 1 0 7.2 0a3.6 3.6 0 1 0 -7.2 0zM707.9 53.3a3.6 3.6 0 1 0 7.2 0a3.6 3.6 0 1 0 -7.2 0zM710.4 49.5a3.6 3.6 0 1 0 7.2 0a3.6 3.6 0 1 0 -7.2 0zM712.6 45.6a3.6 3.6 0 1 0 7.2 0a3.6 3.6 0 1 0 -7.2 0zM714.6 41.6a3.6 3.6 0 1 0 7.2 0a3.6 3.6 0 1 0 -7.2 0z" fill="#0000ff"/>
<polyline points="441,247 442.5,240.7 460,210 472.5,197 480,190 490.8,181 500,169.5 507.7,163 515,156.5 522,150.5 530,147.5 545,152.5 560,164 575,177 589,197.5 600,191 610,178.5 625,160 630,154.5 645,139 660,118 675,103.3 688,89.3 704,76 714,64 719,56" fill="none" stroke="#ff0000" stroke-width="2" stroke-linejoin="round"/>
<path d="M441.0 242.6l4.4 8.0h-8.8zM442.0 238.5l4.4 8.0h-8.8zM443.5 234.6l4.4 8.0h-8.8zM445.5 231.0l4.4 8.0h-8.8zM447.6 227.3l4.4 8.0h-8.8zM449.7 223.7l4.4 8.0h-8.8zM451.8 220.0l4.4 8.0h-8.8zM453.9 216.4l4.4 8.0h-8.8zM455.9 212.7l4.4 8.0h-8.8zM458.0 209.1l4.4 8.0h-8.8zM460.1 205.5l4.4 8.0h-8.8zM463.0 202.4l4.4 8.0h-8.8zM466.0 199.4l4.4 8.0h-8.8zM468.9 196.4l4.4 8.0h-8.8zM471.8 193.4l4.4 8.0h-8.8zM474.8 190.4l4.4 8.0h-8.8zM477.9 187.6l4.4 8.0h-8.8zM481.0 184.8l4.4 8.0h-8.8zM484.2 182.1l4.4 8.0h-8.8zM487.4 179.4l4.4 8.0h-8.8zM490.7 176.7l4.4 8.0h-8.8zM493.3 173.4l4.4 8.0h-8.8zM495.9 170.2l4.4 8.0h-8.8zM498.6 166.9l4.4 8.0h-8.8zM501.5 163.9l4.4 8.0h-8.8zM504.7 161.2l4.4 8.0h-8.8zM507.9 158.4l4.4 8.0h-8.8zM511.0 155.7l4.4 8.0h-8.8zM514.1 152.9l4.4 8.0h-8.8zM517.3 150.1l4.4 8.0h-8.8zM520.5 147.4l4.4 8.0h-8.8zM524.1 145.3l4.4 8.0h-8.8zM528.0 143.8l4.4 8.0h-8.8zM532.0 143.8l4.4 8.0h-8.8zM536.0 145.1l4.4 8.0h-8.8zM540.0 146.4l4.4 8.0h-8.8zM543.9 147.7l4.4 8.0h-8.8zM547.4 150.0l4.4 8.0h-8.8zM550.8 152.5l4.4 8.0h-8.8zM554.1 155.1l4.4 8.0h-8.8zM557.4 157.6l4.4 8.0h-8.8zM560.7 160.2l4.4 8.0h-8.8zM563.9 163.0l4.4 8.0h-8.8zM567.1 165.7l4.4 8.0h-8.8zM570.3 168.5l4.4 8.0h-8.8zM573.4 171.2l4.4 8.0h-8.8zM576.2 174.4l4.4 8.0h-8.8zM578.6 177.8l4.4 8.0h-8.8zM580.9 181.3l4.4 8.0h-8.8zM583.3 184.8l4.4 8.0h-8.8zM585.7 188.2l4.4 8.0h-8.8zM588.0 191.7l4.4 8.0h-8.8zM591.2 191.8l4.4 8.0h-8.8zM594.8 189.7l4.4 8.0h-8.8zM598.4 187.6l4.4 8.0h-8.8zM601.5 184.8l4.4 8.0h-8.8zM604.1 181.5l4.4 8.0h-8.8zM606.7 178.2l4.4 8.0h-8.8zM609.3 174.9l4.4 8.0h-8.8zM612.0 171.7l4.4 8.0h-8.8zM614.6 168.4l4.4 8.0h-8.8zM617.3 165.2l4.4 8.0h-8.8zM619.9 161.9l4.4 8.0h-8.8zM622.5 158.6l4.4 8.0h-8.8zM625.2 155.4l4.4 8.0h-8.8zM628.0 152.3l4.4 8.0h-8.8zM630.9 149.2l4.4 8.0h-8.8zM633.8 146.2l4.4 8.0h-8.8zM636.7 143.2l4.4 8.0h-8.8zM639.6 140.1l4.4 8.0h-8.8zM642.6 137.1l4.4 8.0h-8.8zM645.4 134.0l4.4 8.0h-8.8zM647.8 130.6l4.4 8.0h-8.8zM650.3 127.2l4.4 8.0h-8.8zM652.7 123.8l4.4 8.0h-8.8zM655.2 120.4l4.4 8.0h-8.8zM657.6 116.9l4.4 8.0h-8.8zM660.1 113.5l4.4 8.0h-8.8zM663.1 110.6l4.4 8.0h-8.8zM666.1 107.7l4.4 8.0h-8.8zM669.1 104.7l4.4 8.0h-8.8zM672.1 101.8l4.4 8.0h-8.8zM675.1 98.8l4.4 8.0h-8.8zM677.9 95.8l4.4 8.0h-8.8zM680.8 92.7l4.4 8.0h-8.8zM683.6 89.6l4.4 8.0h-8.8zM686.5 86.5l4.4 8.0h-8.8zM689.5 83.6l4.4 8.0h-8.8zM692.8 80.9l4.4 8.0h-8.8zM696.0 78.3l4.4 8.0h-8.8zM699.2 75.6l4.4 8.0h-8.8zM702.4 72.9l4.4 8.0h-8.8zM705.4 69.9l4.4 8.0h-8.8zM708.1 66.7l4.4 8.0h-8.8zM710.8 63.5l4.4 8.0h-8.8zM713.5 60.2l4.4 8.0h-8.8zM715.8 56.7l4.4 8.0h-8.8zM718.0 53.2l4.4 8.0h-8.8z" fill="#ff0000"/>
</g>
<rect x="423.7" y="3.5" width="297.00000000000006" height="240.2" fill="none" stroke="#383838" stroke-width="2"/>
<line x1="438.9" y1="243.7" x2="438.9" y2="239.7" stroke="#383838" stroke-width="1.4"/>
<line x1="438.9" y1="3.5" x2="438.9" y2="7.5" stroke="#383838" stroke-width="1.4"/>
<line x1="465.4" y1="243.7" x2="465.4" y2="239.7" stroke="#383838" stroke-width="1.4"/>
<line x1="465.4" y1="3.5" x2="465.4" y2="7.5" stroke="#383838" stroke-width="1.4"/>
<line x1="492.6" y1="243.7" x2="492.6" y2="239.7" stroke="#383838" stroke-width="1.4"/>
<line x1="492.6" y1="3.5" x2="492.6" y2="7.5" stroke="#383838" stroke-width="1.4"/>
<line x1="519.6" y1="243.7" x2="519.6" y2="239.7" stroke="#383838" stroke-width="1.4"/>
<line x1="519.6" y1="3.5" x2="519.6" y2="7.5" stroke="#383838" stroke-width="1.4"/>
<line x1="544.8" y1="243.7" x2="544.8" y2="239.7" stroke="#383838" stroke-width="1.4"/>
<line x1="544.8" y1="3.5" x2="544.8" y2="7.5" stroke="#383838" stroke-width="1.4"/>
<line x1="571.9" y1="243.7" x2="571.9" y2="239.7" stroke="#383838" stroke-width="1.4"/>
<line x1="571.9" y1="3.5" x2="571.9" y2="7.5" stroke="#383838" stroke-width="1.4"/>
<line x1="598.9" y1="243.7" x2="598.9" y2="239.7" stroke="#383838" stroke-width="1.4"/>
<line x1="598.9" y1="3.5" x2="598.9" y2="7.5" stroke="#383838" stroke-width="1.4"/>
<line x1="624.7" y1="243.7" x2="624.7" y2="239.7" stroke="#383838" stroke-width="1.4"/>
<line x1="624.7" y1="3.5" x2="624.7" y2="7.5" stroke="#383838" stroke-width="1.4"/>
<line x1="651.8" y1="243.7" x2="651.8" y2="239.7" stroke="#383838" stroke-width="1.4"/>
<line x1="651.8" y1="3.5" x2="651.8" y2="7.5" stroke="#383838" stroke-width="1.4"/>
<line x1="679.1" y1="243.7" x2="679.1" y2="239.7" stroke="#383838" stroke-width="1.4"/>
<line x1="679.1" y1="3.5" x2="679.1" y2="7.5" stroke="#383838" stroke-width="1.4"/>
<line x1="704.4" y1="243.7" x2="704.4" y2="239.7" stroke="#383838" stroke-width="1.4"/>
<line x1="704.4" y1="3.5" x2="704.4" y2="7.5" stroke="#383838" stroke-width="1.4"/>
<line x1="423.7" y1="18.5" x2="427.7" y2="18.5" stroke="#383838" stroke-width="1.4"/>
<line x1="720.7" y1="18.5" x2="716.7" y2="18.5" stroke="#383838" stroke-width="1.4"/>
<line x1="423.7" y1="34.7" x2="427.7" y2="34.7" stroke="#383838" stroke-width="1.4"/>
<line x1="720.7" y1="34.7" x2="716.7" y2="34.7" stroke="#383838" stroke-width="1.4"/>
<line x1="423.7" y1="50.9" x2="427.7" y2="50.9" stroke="#383838" stroke-width="1.4"/>
<line x1="720.7" y1="50.9" x2="716.7" y2="50.9" stroke="#383838" stroke-width="1.4"/>
<line x1="423.7" y1="67.1" x2="427.7" y2="67.1" stroke="#383838" stroke-width="1.4"/>
<line x1="720.7" y1="67.1" x2="716.7" y2="67.1" stroke="#383838" stroke-width="1.4"/>
<line x1="423.7" y1="83.3" x2="427.7" y2="83.3" stroke="#383838" stroke-width="1.4"/>
<line x1="720.7" y1="83.3" x2="716.7" y2="83.3" stroke="#383838" stroke-width="1.4"/>
<line x1="423.7" y1="99.5" x2="427.7" y2="99.5" stroke="#383838" stroke-width="1.4"/>
<line x1="720.7" y1="99.5" x2="716.7" y2="99.5" stroke="#383838" stroke-width="1.4"/>
<line x1="423.7" y1="115.7" x2="427.7" y2="115.7" stroke="#383838" stroke-width="1.4"/>
<line x1="720.7" y1="115.7" x2="716.7" y2="115.7" stroke="#383838" stroke-width="1.4"/>
<line x1="423.7" y1="131.9" x2="427.7" y2="131.9" stroke="#383838" stroke-width="1.4"/>
<line x1="720.7" y1="131.9" x2="716.7" y2="131.9" stroke="#383838" stroke-width="1.4"/>
<line x1="423.7" y1="148.1" x2="427.7" y2="148.1" stroke="#383838" stroke-width="1.4"/>
<line x1="720.7" y1="148.1" x2="716.7" y2="148.1" stroke="#383838" stroke-width="1.4"/>
<line x1="423.7" y1="164.3" x2="427.7" y2="164.3" stroke="#383838" stroke-width="1.4"/>
<line x1="720.7" y1="164.3" x2="716.7" y2="164.3" stroke="#383838" stroke-width="1.4"/>
<line x1="423.7" y1="180.5" x2="427.7" y2="180.5" stroke="#383838" stroke-width="1.4"/>
<line x1="720.7" y1="180.5" x2="716.7" y2="180.5" stroke="#383838" stroke-width="1.4"/>
<line x1="423.7" y1="196.7" x2="427.7" y2="196.7" stroke="#383838" stroke-width="1.4"/>
<line x1="720.7" y1="196.7" x2="716.7" y2="196.7" stroke="#383838" stroke-width="1.4"/>
<line x1="423.7" y1="212.9" x2="427.7" y2="212.9" stroke="#383838" stroke-width="1.4"/>
<line x1="720.7" y1="212.9" x2="716.7" y2="212.9" stroke="#383838" stroke-width="1.4"/>
<line x1="423.7" y1="229.1" x2="427.7" y2="229.1" stroke="#383838" stroke-width="1.4"/>
<line x1="720.7" y1="229.1" x2="716.7" y2="229.1" stroke="#383838" stroke-width="1.4"/>
<text x="417" y="7" style="font-family:'Liberation Serif',serif;font-weight:bold;font-size:14.5px" text-anchor="end" >100</text>
<text x="417" y="87.8" style="font-family:'Liberation Serif',serif;font-weight:bold;font-size:14.5px" text-anchor="end" >90</text>
<text x="417" y="168.8" style="font-family:'Liberation Serif',serif;font-weight:bold;font-size:14.5px" text-anchor="end" >80</text>
<text x="417" y="247.5" style="font-family:'Liberation Serif',serif;font-weight:bold;font-size:14.5px" text-anchor="end" >70</text>
<text x="465" y="261.7" style="font-family:'Liberation Serif',serif;font-weight:bold;font-size:14.5px" text-anchor="middle" >5.5</text>
<text x="518" y="261.7" style="font-family:'Liberation Serif',serif;font-weight:bold;font-size:14.5px" text-anchor="middle" >6.0</text>
<text x="572" y="261.7" style="font-family:'Liberation Serif',serif;font-weight:bold;font-size:14.5px" text-anchor="middle" >6.5</text>
<text x="625" y="261.7" style="font-family:'Liberation Serif',serif;font-weight:bold;font-size:14.5px" text-anchor="middle" >7.0</text>
<text x="677.5" y="261.7" style="font-family:'Liberation Serif',serif;font-weight:bold;font-size:14.5px" text-anchor="middle" >7.5</text>
<text x="570.8" y="285.6" style="font-family:'Liberation Serif',serif;font-weight:bold;font-size:19px" text-anchor="middle" >Voltage (V)</text>
<text transform="translate(391.3,117.7) rotate(-90)" text-anchor="middle" style="font-family:'Liberation Serif',serif;font-weight:bold;font-size:19px">Current (mA)</text>
<text x="563" y="35" style="font-family:'Liberation Sans',sans-serif;font-weight:bold;font-size:20px" text-anchor="middle" >(b)</text>
<line x1="687.5" y1="14" x2="687.5" y2="206" stroke="#222" stroke-width="2.3" stroke-dasharray="13 7.3"/>
<line x1="687.5" y1="210" x2="687.5" y2="226" stroke="#222" stroke-width="1.6"/>
<path d="M684.5 224L690.9 224L687.6 233z" fill="#111"/>
<text transform="translate(683,173) rotate(-90)" text-anchor="middle" style="font-family:'Liberation Sans',sans-serif;font-size:17px">Increasing</text>
<text transform="translate(702.7,170.7) rotate(-90)" text-anchor="middle" style="font-family:'Liberation Sans',sans-serif;font-size:17px">Scan No</text>
<rect x="427.9" y="8" width="72.5" height="72" fill="#fff" stroke="#383838" stroke-width="1.5"/>
<text x="434" y="22.7" style="font-family:'Liberation Sans',sans-serif;font-size:14.5px" text-anchor="start" >Scan no</text>
<line x1="436.7" y1="30.7" x2="470.6" y2="30.7" stroke="#000" stroke-width="2"/>
<path d="M450.2 27.4h6.5v6.5h-6.5z" fill="#000"/>
<text x="472.2" y="35.5" style="font-family:'Liberation Serif',serif;font-size:14px" text-anchor="start" >1</text>
<line x1="436.7" y1="49.4" x2="470.6" y2="49.4" stroke="#0000ff" stroke-width="2"/>
<path d="M450.2 49.4a3.2 3.2 0 1 0 6.5 0a3.2 3.2 0 1 0 -6.5 0z" fill="#0000ff"/>
<text x="472.2" y="54.199999999999996" style="font-family:'Liberation Serif',serif;font-size:14px" text-anchor="start" >30</text>
<line x1="436.7" y1="67.6" x2="470.6" y2="67.6" stroke="#ff0000" stroke-width="2"/>
<path d="M453.5 64.0l3.6 6.5h-7.2z" fill="#ff0000"/>
<text x="472.2" y="72.39999999999999" style="font-family:'Liberation Serif',serif;font-size:14px" text-anchor="start" >50</text>
</svg>
</body></html>
